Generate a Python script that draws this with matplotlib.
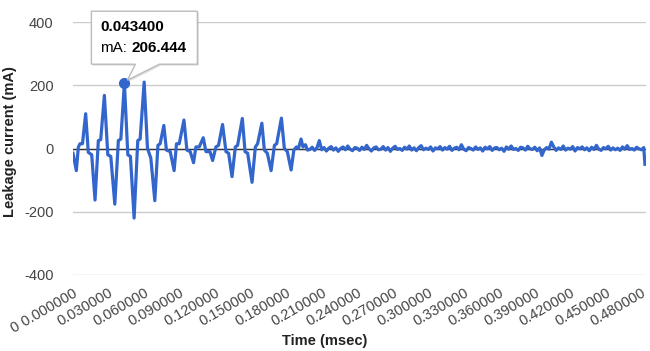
import numpy as np
import matplotlib
matplotlib.use("Agg")
import matplotlib.pyplot as plt
from matplotlib.patches import Polygon
from matplotlib.transforms import IdentityTransform

plt.rcParams['font.family'] = ['Liberation Sans', 'DejaVu Sans']
plt.rcParams['axes.unicode_minus'] = False

t_burst = [0.0000, 0.0028, 0.0045, 0.0059, 0.0080, 0.0107, 0.0129, 0.0158, 0.0186, 0.0214,
           0.0234, 0.0265, 0.0294, 0.0319, 0.0353, 0.0383, 0.0404, 0.0434, 0.0463, 0.0485,
           0.0516, 0.0547, 0.0567, 0.0601, 0.0629, 0.0657, 0.0691, 0.0717, 0.0736, 0.0767,
           0.0789, 0.0821, 0.0854, 0.0874, 0.0897, 0.0937, 0.0962, 0.0990, 0.1018, 0.1038,
           0.1066, 0.1100, 0.1123, 0.1157, 0.1179, 0.1207, 0.1229, 0.1263, 0.1292, 0.1314,
           0.1343, 0.1371, 0.1390, 0.1430, 0.1453, 0.1475, 0.1512, 0.1540, 0.1559, 0.1595,
           0.1616, 0.1641, 0.1673, 0.1701, 0.1720, 0.1760, 0.1785, 0.1810, 0.1842, 0.1865,
           0.1887, 0.1904, 0.1926, 0.1942, 0.1963, 0.1980]
mA_burst = [-15, -70, 4, 15, 15, 110, -12, -20, -163, 25,
            28, 168, -20, -25, -176, 25, 30, 206.444, -20, -25,
            -220, 25, 30, 210, 0, -30, -165, 10, 15, 73,
            -5, -10, -70, 15, 15, 90, -5, -10, -45, 5,
            5, 34, -10, -10, -38, 5, 10, 76, -10, -15,
            -89, 5, 10, 95, -10, -15, -107, 5, 15, 80,
            -5, -15, -70, 10, 15, 96, 0, -10, -68, -5,
            5, 0, 30, 5, 12, -5]

# quiet tail, sampled every 0.002 msec from 0.200
noise_start = 0.200
noise_step = 0.002
noise_mA = [-3, 4, -6, 2, 25, -4, 3, -8, 1, 6,
            -5, 2, -9, 0, 5, -4, 8, -2, -7, 3,
            1, -6, 4, -3, 10, -1, -8, 2, 5, -4,
            -2, 6, -5, 3, -9, 1, 7, -3, 0, -6,
            4, -2, 8, -5, 2, -7, 3, 9, -4, 1,
            -3, 5, -8, 2, -1, 6, -5, 3, -2, 7,
            -6, 1, 4, -4, 12, -2, -7, 3, 0, -5,
            5, -3, 2, -8, 4, -1, 6, -6, 2, 3,
            -4, 1, -9, 5, -2, 8, -3, 0, -6, 4,
            2, -5, 7, -1, -3, 4, -7, 2, -22, -4,
            3, -2, 20, 5, -6, 2, -3, 8, -5, 1,
            -2, 6, -8, 3, -1, 5, -4, 2, -7, 4,
            -3, 10, -2, -6, 3, -1, 7, -5, 2, -4,
            1, -6, 5, -2, 9, -3, 0, -5, 4, -1,
            -4, 3]
t_end = [0.4830]
mA_end = [-50]

y_ticks = [-400, -200, 0, 200, 400]
y_labels = ['-400', '-200', '0', '200', '400']
x_ticks = [0.00, 0.03, 0.06, 0.09, 0.12, 0.15, 0.18, 0.21, 0.24,
           0.27, 0.30, 0.33, 0.36, 0.39, 0.42, 0.45, 0.48]
x_labels = ['0 0.000000', '0.030000', '0.060000', '0.090000', '0.120000',
            '0.150000', '0.180000', '0.210000', '0.240000', '0.270000',
            '0.300000', '0.330000', '0.360000', '0.390000', '0.420000',
            '0.450000', '0.480000']

hover_t = 0.0434
hover_mA = 206.444

t_noise = noise_start + noise_step * np.arange(len(noise_mA))
t = np.concatenate([t_burst, t_noise, t_end])
mA = np.concatenate([mA_burst, noise_mA, mA_end])

fig = plt.figure(figsize=(6.5, 3.51), dpi=100)
ax = fig.add_axes([73/650, 1 - 275/351, (646 - 73)/650, (275 - 22)/351])

ax.plot(t, mA, color='#3366cc', lw=2.3, zorder=3, solid_joinstyle='round')
ax.axhline(0, color='#333333', lw=1, zorder=2)
ax.set_xlim(0, 0.4839)
ax.set_ylim(-400, 400)
ax.set_yticks(y_ticks)
ax.set_yticklabels(y_labels)
ax.set_xticks(x_ticks)
ax.set_xticklabels(x_labels, rotation=30, ha='right', va='top', rotation_mode='anchor')
ax.grid(axis='y', color='#cccccc', lw=1)
ax.grid(axis='x', visible=False)
for s in ax.spines.values():
    s.set_visible(False)
ax.tick_params(length=0, colors='#444444', labelsize=10.5)
ax.tick_params(axis='y', pad=14)
ax.tick_params(axis='x', pad=8)

fig.text(10/650, 1 - 142/351, 'Leakage current (mA)', rotation=90, fontsize=10.5,
         fontweight='bold', ha='center', va='center', color='#222222')
fig.text(325/650, 1 - 341/351, 'Time (msec)', fontsize=10.5,
         fontweight='bold', ha='center', va='center', color='#222222')

# hovered point + tooltip
ax.plot([hover_t], [hover_mA], 'o', ms=7, color='#3366cc', zorder=5)
px, py = ax.transData.transform((hover_t, hover_mA))
L, R, B, T = px - 33, px + 73, py + 19, py + 72
outline = [(L, B), (px + 11, B), (px + 3, py + 3), (px + 35, B), (R, B), (R, T), (L, T)]
shadow = Polygon([(x + 1.5, y - 1.5) for x, y in outline], closed=True,
                 facecolor='#000000', alpha=0.12, edgecolor='none', zorder=10)
shadow.set_transform(IdentityTransform())
fig.add_artist(shadow)
box = Polygon(outline, closed=True, facecolor='white', edgecolor='#bbbbbb', lw=1, zorder=11)
box.set_transform(IdentityTransform())
fig.add_artist(box)

t1 = fig.text((px - 24)/650, (py + 56)/351, '%.6f' % hover_t, fontsize=11,
              fontweight='bold', ha='left', va='center', color='#000000', zorder=12)
t2 = fig.text((px - 24)/650, (py + 35)/351, 'mA:', fontsize=11,
              ha='left', va='center', color='#000000', zorder=12)
r = fig.canvas.get_renderer()
x2 = t2.get_window_extent(r).x1
fig.text((x2 + 4)/650, (py + 35)/351, '%.3f' % hover_mA, fontsize=11,
         fontweight='bold', ha='left', va='center', color='#000000', zorder=12)

fig.savefig('out.png', dpi=100)
